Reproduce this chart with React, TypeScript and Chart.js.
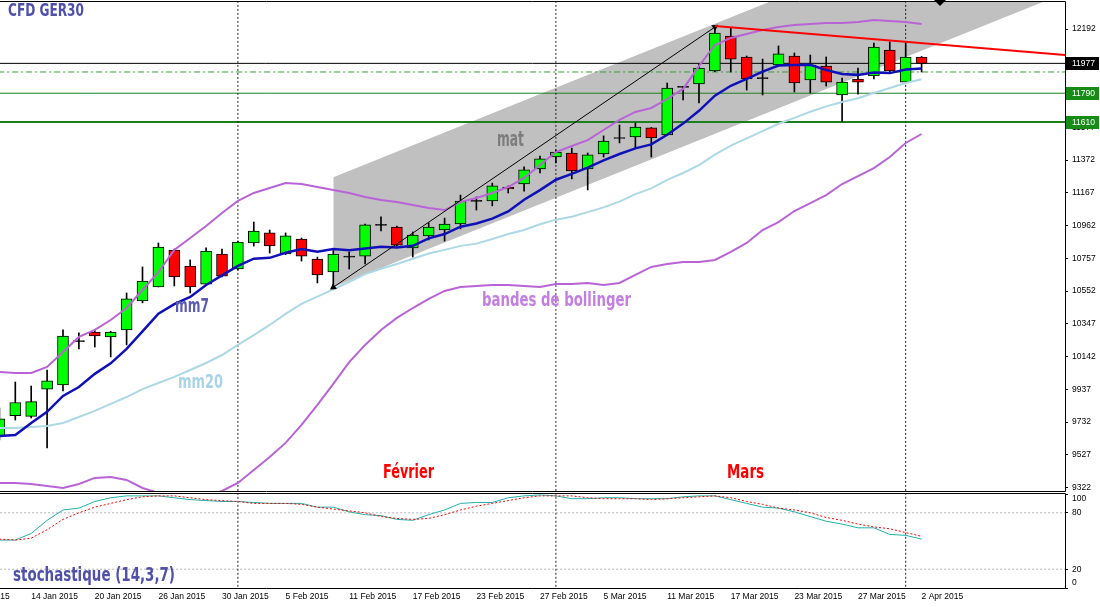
import React, { useEffect, useRef } from 'react';
import { Chart, registerables } from 'chart.js';

Chart.register(...registerables);

// ---------------- DATA ----------------
// Bars are indexed 0..58 (12 Jan 2015 .. 2 Apr 2015, daily, weekdays)
const opens = [
  9645, 9772, 9768, 9939, 9965, 10236, 10296, 10265, 10309, 10490,
  10578, 10809, 10709, 10596, 10784, 10690, 10853, 10916, 10784, 10878,
  10753, 10672, 10765, 10771, 10966, 10953, 10822, 10897, 10934, 10972,
  11116, 11116, 11203, 11222, 11316, 11391, 11416, 11316, 11410, 11510,
  11516, 11573, 11529, 11829, 11848, 11929, 12148, 12017, 11885, 11967,
  12023, 11873, 11960, 11779, 11879, 11898, 12060, 11860, 12017,
];
const highs = [
  9821, 9983, 9958, 10058, 10309, 10290, 10309, 10300, 10540, 10703,
  10853, 10815, 10747, 10822, 10815, 10865, 10984, 10934, 10916, 10884,
  10765, 10809, 10797, 10972, 11016, 10958, 10922, 10978, 11009, 11153,
  11141, 11228, 11210, 11329, 11397, 11435, 11447, 11416, 11523, 11591,
  11604, 11576, 11854, 11832, 11973, 12204, 12198, 12023, 12004, 12086,
  12042, 12029, 12017, 11885, 11948, 12104, 12111, 12104, 12020,
];
const lows = [
  9620, 9745, 9758, 9570, 9927, 10190, 10202, 10140, 10215, 10478,
  10578, 10584, 10540, 10590, 10640, 10685, 10834, 10790, 10780, 10740,
  10603, 10584, 10690, 10722, 10928, 10835, 10765, 10872, 10865, 10941,
  11059, 11085, 11166, 11178, 11291, 11354, 11254, 11185, 11391, 11479,
  11447, 11391, 11525, 11748, 11729, 11925, 11923, 11810, 11779, 11960,
  11798, 11792, 11835, 11610, 11785, 11879, 11923, 11855, 11923,
];
const closes = [
  9752, 9855, 9860, 9990, 10271, 10240, 10271, 10296, 10503, 10615,
  10828, 10640, 10578, 10803, 10646, 10859, 10928, 10834, 10897, 10771,
  10653, 10784, 10768, 10966, 10963, 10840, 10903, 10953, 10972, 11116,
  11113, 11210, 11191, 11310, 11379, 11422, 11304, 11404, 11491, 11507,
  11579, 11510, 11823, 11827, 11948, 12167, 12004, 11879, 11882, 12036,
  11854, 11967, 11860, 11860, 11860, 12079, 11929, 12017, 11977,
];
const mm7 = [
  9645, 9652, 9727, 9796, 9896, 9952, 10034, 10100, 10190, 10300,
  10410, 10470, 10515, 10590, 10650, 10710, 10755, 10760, 10792, 10815,
  10798, 10815, 10808, 10818, 10829, 10825, 10835, 10882, 10909, 10955,
  10975, 11005, 11050, 11124, 11184, 11249, 11285, 11325, 11370, 11410,
  11445, 11470, 11530, 11600, 11680, 11775, 11837, 11880, 11925, 11963,
  11967, 11968, 11935, 11910, 11905, 11920, 11916, 11939, 11945,
];
const mm20 = [
  9696, 9696, 9702, 9708, 9727, 9764, 9802, 9846, 9889, 9939,
  9977, 10015, 10058, 10102, 10152, 10215, 10277, 10340, 10409, 10472,
  10517, 10563, 10609, 10658, 10692, 10722, 10754, 10787, 10810, 10835,
  10849, 10878, 10909, 10934, 10970, 10999, 11017, 11046, 11076, 11112,
  11159, 11195, 11248, 11291, 11340, 11406, 11462, 11508, 11553, 11599,
  11636, 11674, 11708, 11735, 11759, 11792, 11823, 11854, 11878,
];
const bbUpper = [
  10046, 10040, 10040, 10077, 10171, 10265, 10309, 10371, 10446, 10559,
  10671, 10809, 10884, 10959, 11041, 11116, 11166, 11197, 11228, 11222,
  11203, 11185, 11166, 11141, 11122, 11110, 11091, 11072, 11059, 11110,
  11135, 11166, 11203, 11260, 11341, 11422, 11460, 11497, 11560, 11623,
  11673, 11698, 11754, 11817, 11960, 12092, 12136, 12161, 12186, 12205,
  12217, 12223, 12230, 12230, 12236, 12248, 12242, 12236, 12223,
];
const bbLower = [
  9351, 9351, 9345, 9333, 9320, 9345, 9383, 9389, 9370, 9320,
  9289, 9264, 9257, 9270, 9301, 9351, 9433, 9514, 9602, 9715,
  9840, 9971, 10108, 10215, 10309, 10384, 10446, 10503, 10553, 10578,
  10584, 10590, 10590, 10584, 10578, 10597, 10597, 10603, 10590, 10603,
  10653, 10703, 10722, 10734, 10734, 10747, 10797, 10853, 10934, 10984,
  11053, 11103, 11153, 11222, 11272, 11322, 11391, 11479, 11535,
];
const stochMain = [
  51, 51, 58, 72, 83, 85, 92, 96, 98, 98,
  98, 96, 94, 93, 92, 92, 91, 90, 90, 90,
  86, 86, 81, 78, 77, 73, 72, 78, 83, 90,
  91, 91, 96, 98, 99, 98, 95, 95, 96, 96,
  95, 95, 95, 97, 98, 98, 94, 90, 86, 85,
  81, 76, 71, 68, 64, 64, 57, 56, 52,
];
const stochSignal = [
  52, 51, 53, 62, 73, 80, 86, 90, 94, 97,
  98, 98, 96, 94, 93, 92, 90, 90, 90, 89,
  86, 84, 82, 80, 76, 74, 73, 74, 78, 83,
  87, 90, 93, 96, 98, 98, 98, 96, 95, 95,
  95, 94, 95, 96, 97, 98, 96, 92, 89, 85,
  83, 80, 75, 72, 68, 65, 63, 59, 55,
];

const priceTicks = [9322, 9527, 9732, 9937, 10142, 10347, 10552, 10757, 10962, 11167, 11372, 11577, 11782, 11987, 12192];
const stochTicks = [0, 20, 80, 100];
const stochLevels = [20, 80];
const xTickBars = [-2, 2, 6, 10, 14, 18, 22, 26, 30, 34, 38, 42, 46, 50, 54, 58];
const xTickLabels = [
  '8 Jan 2015', '14 Jan 2015', '20 Jan 2015', '26 Jan 2015', '30 Jan 2015', '5 Feb 2015',
  '11 Feb 2015', '17 Feb 2015', '23 Feb 2015', '27 Feb 2015', '5 Mar 2015', '11 Mar 2015',
  '17 Mar 2015', '23 Mar 2015', '27 Mar 2015', '2 Apr 2015',
];
const monthSeparators = [15, 35, 57];

// drawing objects (bar index / price)
const channelBars = [21, 68];
const channelUpper = [11265, 13145];
const channelLower = [10576, 12456];
const arrowBars = [21, 45];
const arrowPrices = [10576, 12204];
const resistanceBars = [45, 68];
const resistancePrices = [12211, 12021];
const hLevels = [11977, 11923, 11790, 11610];
const tagValues = [11977, 11790, 11610];

// ---------------- LAYOUT / STYLE ----------------
const W = 1100;
const MAIN_H = 492;
const STOCH_H = 115;
const AXIS_W = 35;
const X_MIN = 0.0377;
const X_MAX = 67.02;
const PRICE_MIN = 9301;
const PRICE_MAX = 12361;

const hStyles = [
  { color: '#000000', width: 1, dash: [] as number[] },
  { color: '#3c9c3c', width: 1, dash: [6, 3, 2, 3] },
  { color: '#1f7f1f', width: 1, dash: [] as number[] },
  { color: '#1f7f1f', width: 2, dash: [] as number[] },
];
const tagColors = ['#000000', '#168c16', '#168c16'];

const TICK_FONT = { family: "'Liberation Sans', Arial, sans-serif", size: 8.5 };
const LABEL_FAMILY = "'Liberation Sans Narrow', 'DejaVu Sans Condensed', 'Liberation Sans', sans-serif";

type Anno = { text: string; x: number; y: number; w: number; size: number; color: string };

const mainTexts: Anno[] = [
  { text: 'CFD GER30', x: 8, y: 12, w: 76, size: 17, color: '#4f4fae' },
  { text: 'mat', x: 497, y: 141, w: 27, size: 21, color: '#7d7d7d' },
  { text: 'mm7', x: 175, y: 307, w: 34, size: 20, color: '#5a5ab0' },
  { text: 'bandes de bollinger', x: 482, y: 301, w: 149, size: 20, color: '#c47ee0' },
  { text: 'mm20', x: 178, y: 383, w: 45, size: 20, color: '#a9d4e6' },
  { text: 'Février', x: 383, y: 473, w: 51, size: 19, color: '#ff0000' },
  { text: 'Mars', x: 727, y: 473, w: 37, size: 19, color: '#ff0000' },
];
const stochTexts: Anno[] = [
  { text: 'stochastique (14,3,7)', x: 13, y: 84, w: 162, size: 20, color: '#5050aa' },
];

const textPlugin = (items: Anno[]) => ({
  id: 'annoTexts',
  afterDatasetsDraw(chart: any) {
    const ctx = chart.ctx;
    items.forEach((it) => {
      ctx.save();
      ctx.font = `bold ${it.size}px ${LABEL_FAMILY}`;
      const m = ctx.measureText(it.text).width || 1;
      ctx.translate(it.x, it.y);
      ctx.scale(it.w / m, 1);
      ctx.fillStyle = it.color;
      ctx.textBaseline = 'middle';
      ctx.textAlign = 'left';
      ctx.fillText(it.text, 0, 0);
      ctx.restore();
    });
  },
});

const framePlugin = (main: boolean) => ({
  id: 'frame',
  afterDraw(chart: any) {
    const { ctx, chartArea: a } = chart;
    ctx.save();
    ctx.strokeStyle = '#000';
    ctx.lineWidth = 1;
    ctx.beginPath();
    ctx.moveTo(0, a.top - 0.5);
    ctx.lineTo(a.right + 0.5, a.top - 0.5);
    ctx.lineTo(a.right + 0.5, a.bottom + 0.5);
    ctx.lineTo(0, a.bottom + 0.5);
    ctx.stroke();
    if (main) {
      // chart shift marker
      ctx.fillStyle = '#000';
      ctx.beginPath();
      ctx.moveTo(934, 0);
      ctx.lineTo(946, 0);
      ctx.lineTo(940, 6);
      ctx.closePath();
      ctx.fill();
      // price tags
      const ys = chart.scales.y;
      tagValues.forEach((v, i) => {
        const y = ys.getPixelForValue(v);
        ctx.fillStyle = tagColors[i];
        ctx.fillRect(a.right + 1, Math.round(y) - 6, W - a.right - 2, 13);
        ctx.fillStyle = '#ffffff';
        ctx.font = `${TICK_FONT.size}px ${TICK_FONT.family}`;
        ctx.textBaseline = 'middle';
        ctx.textAlign = 'left';
        ctx.fillText(String(v), a.right + 7, Math.round(y) + 0.5);
      });
    }
    ctx.restore();
  },
});

const series = (arr: number[]) => arr.map((y, x) => ({ x, y }));
const segment = (xs: number[], ys: number[]) => xs.map((x, i) => ({ x, y: ys[i] }));

const baseLine = {
  type: 'line' as const,
  pointRadius: 0,
  tension: 0,
  fill: false,
};

export default function App() {
  const mainRef = useRef<HTMLCanvasElement>(null);
  const stochRef = useRef<HTMLCanvasElement>(null);

  useEffect(() => {
    const bodyColors = opens.map((o, i) =>
      Math.abs(closes[i] - o) < 5 ? '#000000' : closes[i] > o ? '#00ff00' : '#ff0000'
    );

    const hLineSets = hLevels.map((v, i) => ({
      ...baseLine,
      data: [{ x: X_MIN - 1, y: v }, { x: X_MAX + 1, y: v }],
      borderColor: hStyles[i].color,
      borderWidth: hStyles[i].width,
      borderDash: hStyles[i].dash,
      order: 15,
    }));
    const sepSets = (lo: number, hi: number) =>
      monthSeparators.map((b) => ({
        ...baseLine,
        data: [{ x: b, y: lo }, { x: b, y: hi }],
        borderColor: '#222',
        borderWidth: 1,
        borderDash: [2, 2],
        order: 14,
      }));

    const main = new Chart(mainRef.current as HTMLCanvasElement, {
      type: 'line',
      data: {
        datasets: [
          {
            ...baseLine,
            data: segment(channelBars, channelUpper),
            borderColor: 'rgba(0,0,0,0)',
            borderWidth: 1,
            order: 21,
          },
          {
            ...baseLine,
            data: segment(channelBars, channelLower),
            borderColor: 'rgba(0,0,0,0)',
            borderWidth: 1,
            fill: '-1',
            backgroundColor: '#c0c0c0',
            order: 20,
          },
          ...hLineSets,
          ...sepSets(PRICE_MIN - 500, PRICE_MAX + 500),
          {
            type: 'bar',
            data: lows.map((l, i) => ({ x: i, y: [l, highs[i]] })),
            backgroundColor: '#000000',
            barThickness: 1,
            grouped: false,
            borderWidth: 0,
            order: 12,
          },
          {
            type: 'bar',
            data: opens.map((o, i) => ({ x: i, y: [o, closes[i]] })),
            backgroundColor: bodyColors,
            borderColor: '#000000',
            borderWidth: 1,
            borderSkipped: false,
            barThickness: 11,
            minBarLength: 1,
            grouped: false,
            order: 11,
          },
          { ...baseLine, data: series(mm20), borderColor: '#add8e6', borderWidth: 2, order: 5 },
          { ...baseLine, data: series(bbUpper), borderColor: '#b864d6', borderWidth: 2, order: 4 },
          { ...baseLine, data: series(bbLower), borderColor: '#b864d6', borderWidth: 2, order: 4 },
          { ...baseLine, data: series(mm7), borderColor: '#1010b8', borderWidth: 2.5, order: 3 },
          {
            ...baseLine,
            data: segment(arrowBars, arrowPrices),
            borderColor: '#000000',
            borderWidth: 1,
            pointRadius: 4,
            pointStyle: 'triangle',
            pointRotation: [235.7, 55.7],
            pointBackgroundColor: '#000000',
            pointBorderColor: '#000000',
            pointBorderWidth: 0,
            order: 2,
          },
          {
            ...baseLine,
            data: segment(resistanceBars, resistancePrices),
            borderColor: '#ff0000',
            borderWidth: 2,
            order: 1,
          },
        ] as any,
      },
      options: {
        responsive: false,
        animation: false,
        devicePixelRatio: 1,
        events: [],
        layout: { autoPadding: false, padding: { top: 2, bottom: 1, left: 0, right: 0 } },
        plugins: { legend: { display: false }, tooltip: { enabled: false } },
        scales: {
          x: {
            type: 'linear',
            min: X_MIN,
            max: X_MAX,
            display: false,
            offset: false,
            grid: { offset: false },
          },
          y: {
            type: 'linear',
            position: 'right',
            min: PRICE_MIN,
            max: PRICE_MAX,
            beginAtZero: false,
            afterFit: (s: any) => {
              s.width = AXIS_W;
              s.paddingTop = 0;
              s.paddingBottom = 0;
            },
            afterBuildTicks: (s: any) => {
              s.ticks = priceTicks.map((v) => ({ value: v }));
            },
            ticks: {
              callback: (v: any) => String(v),
              font: TICK_FONT,
              color: '#000000',
              padding: 4,
              autoSkip: false,
            },
            grid: { display: true, drawOnChartArea: false, drawTicks: true, tickLength: 3, color: '#000000' },
            border: { display: false },
          },
        },
      } as any,
      plugins: [textPlugin(mainTexts), framePlugin(true)],
    });

    const stoch = new Chart(stochRef.current as HTMLCanvasElement, {
      type: 'line',
      data: {
        datasets: [
          ...stochLevels.map((v) => ({
            ...baseLine,
            data: [{ x: X_MIN - 1, y: v }, { x: X_MAX + 1, y: v }],
            borderColor: '#b4b4b4',
            borderWidth: 1,
            borderDash: [2, 2],
            order: 15,
          })),
          ...sepSets(-20, 120),
          { ...baseLine, data: series(stochMain), borderColor: '#20b2aa', borderWidth: 1, order: 3 },
          {
            ...baseLine,
            data: series(stochSignal),
            borderColor: '#ff0000',
            borderWidth: 1,
            borderDash: [2, 2],
            order: 2,
          },
        ] as any,
      },
      options: {
        responsive: false,
        animation: false,
        devicePixelRatio: 1,
        events: [],
        layout: { autoPadding: false, padding: { top: 2, bottom: 0, left: 0, right: 0 } },
        plugins: { legend: { display: false }, tooltip: { enabled: false } },
        scales: {
          x: {
            type: 'linear',
            position: 'bottom',
            min: X_MIN,
            max: X_MAX,
            offset: false,
            afterFit: (s: any) => {
              s.height = 19;
              s.paddingLeft = 0;
              s.paddingRight = 0;
            },
            afterBuildTicks: (s: any) => {
              s.ticks = xTickBars.map((v) => ({ value: v }));
            },
            ticks: {
              align: 'start',
              maxRotation: 0,
              minRotation: 0,
              autoSkip: false,
              padding: 4,
              font: TICK_FONT,
              color: '#000000',
              callback: (_v: any, i: number) => xTickLabels[i],
            },
            grid: { display: false, drawTicks: false },
            border: { display: false },
          },
          y: {
            type: 'linear',
            position: 'right',
            min: 0,
            max: 100,
            beginAtZero: false,
            afterFit: (s: any) => {
              s.width = AXIS_W;
              s.paddingTop = 0;
              s.paddingBottom = 0;
            },
            afterBuildTicks: (s: any) => {
              s.ticks = stochTicks.map((v) => ({ value: v }));
            },
            ticks: {
              font: TICK_FONT,
              color: '#000000',
              padding: 4,
              autoSkip: false,
              callback: (v: any) => (v === 100 ? ['', '100'] : v === 0 ? ['0', ''] : String(v)),
            },
            grid: { display: true, drawOnChartArea: false, drawTicks: true, tickLength: 3, color: '#000000' },
            border: { display: false },
          },
        },
      } as any,
      plugins: [textPlugin(stochTexts), framePlugin(false)],
    });

    return () => {
      main.destroy();
      stoch.destroy();
    };
  }, []);

  return (
    <div style={{ position: 'fixed', left: 0, top: 0, width: W, height: MAIN_H + STOCH_H, background: '#ffffff' }}>
      <canvas
        ref={mainRef}
        width={W}
        height={MAIN_H}
        style={{ position: 'absolute', left: 0, top: 0, width: W, height: MAIN_H }}
      />
      <canvas
        ref={stochRef}
        width={W}
        height={STOCH_H}
        style={{ position: 'absolute', left: 0, top: MAIN_H, width: W, height: STOCH_H }}
      />
    </div>
  );
}
